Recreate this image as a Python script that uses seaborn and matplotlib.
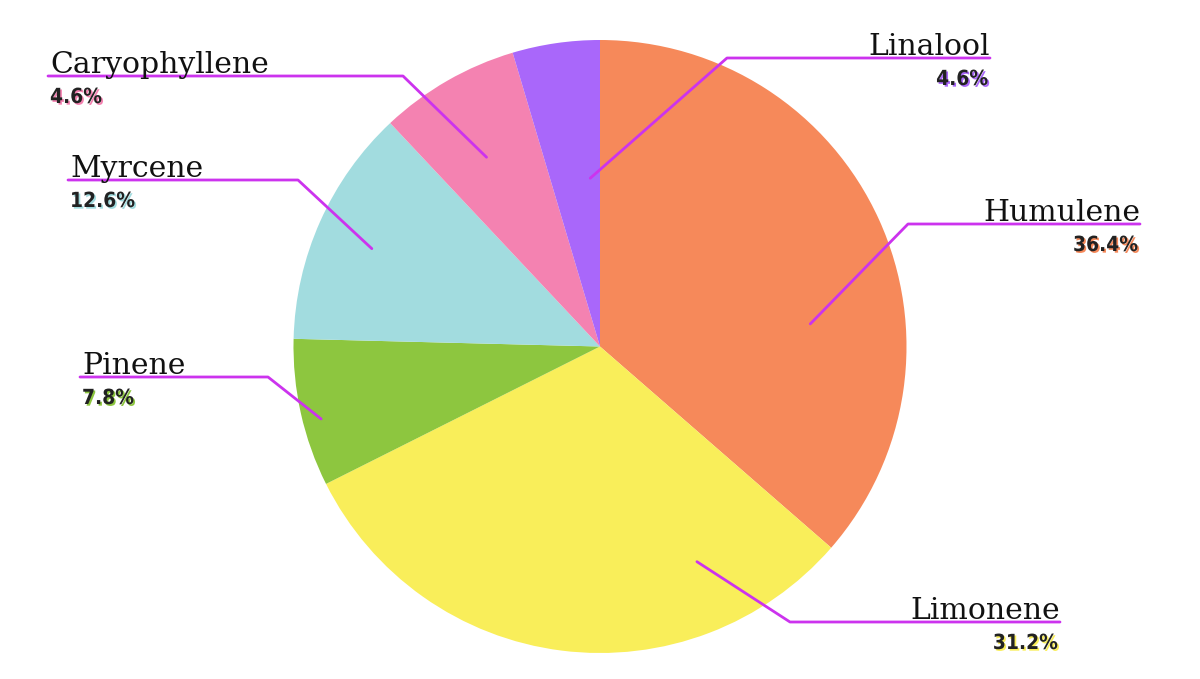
import matplotlib
matplotlib.use("Agg")
import matplotlib.pyplot as plt
import matplotlib.patheffects as pe
import numpy as np
import seaborn as sns

# ---- data ----
terpenes = ["Humulene", "Limonene", "Pinene", "Myrcene", "Caryophyllene", "Linalool"]
shares = [36.4, 31.2, 7.8, 12.6, 7.4, 4.6]
shown_labels = ["36.4%", "31.2%", "7.8%", "12.6%", "4.6%", "4.6%"]
slice_colors = ["#F6895A", "#F9EE5A", "#8DC63F", "#A2DCDF", "#F482B1", "#A967FA"]

# ---- layout (pixel coords, y from top) ----
W, H = 1200, 679
center_px = (600, 346.5)
radius_px = 306.5
# leader start: fraction along slice (clockwise), radius fraction
lead_frac = [0.64, 0.22, 0.43, 0.48, 0.46, 0.80]
lead_rad = [0.69, 0.77, 0.94, 0.81, 0.72, 0.55]
# elbow (x, y), line end x, side
elbow = [(908, 224), (790, 622), (268, 377), (298, 180), (403, 76), (727, 58)]
line_end = [1140, 1060, 80, 68, 48, 990]
side = ["right", "right", "left", "left", "left", "right"]

sns.set_theme(style="white")
plt.rcParams["font.family"] = ["DejaVu Serif"]

fig = plt.figure(figsize=(W / 100, H / 100), dpi=100)
ax = fig.add_axes([0, 0, 1, 1])

def Y(y):
    return H - y

cx, cy = center_px[0], Y(center_px[1])
wedges, _ = ax.pie(shares, colors=sns.color_palette(slice_colors), startangle=90,
                   counterclock=False, center=(cx, cy), radius=radius_px,
                   wedgeprops=dict(linewidth=0))
ax.set_xlim(0, W)
ax.set_ylim(0, H)
ax.set_aspect("equal")
ax.axis("off")

line_col = "#CC33EE"
for i, w in enumerate(wedges):
    ang = np.deg2rad(w.theta2 - lead_frac[i] * (w.theta2 - w.theta1))
    sx = cx + lead_rad[i] * radius_px * np.cos(ang)
    sy = cy + lead_rad[i] * radius_px * np.sin(ang)
    ex, ey = elbow[i][0], Y(elbow[i][1])
    lx = line_end[i]
    ax.plot([sx, ex, lx], [sy, ey, ey], color=line_col, lw=2.0,
            solid_capstyle="round", solid_joinstyle="round", zorder=5)
    ha = "right" if side[i] == "right" else "left"
    tx = lx if side[i] == "right" else lx + 2
    ax.text(tx, ey + 3, terpenes[i], ha=ha, va="baseline", fontsize=21.5,
            family="DejaVu Serif", color="#111111", zorder=6)
    ax.text(tx - (2 if ha == "right" else 0), ey - 11, shown_labels[i], ha=ha, va="top",
            fontsize=15, fontweight="bold", fontstretch="condensed",
            family=["Liberation Sans Narrow", "DejaVu Sans"], color="#222222", zorder=6,
            path_effects=[pe.withSimplePatchShadow(offset=(1.2, -1.2),
                                                   shadow_rgbFace=slice_colors[i],
                                                   alpha=1.0)])

fig.savefig("out.png", dpi=100, facecolor="white")
